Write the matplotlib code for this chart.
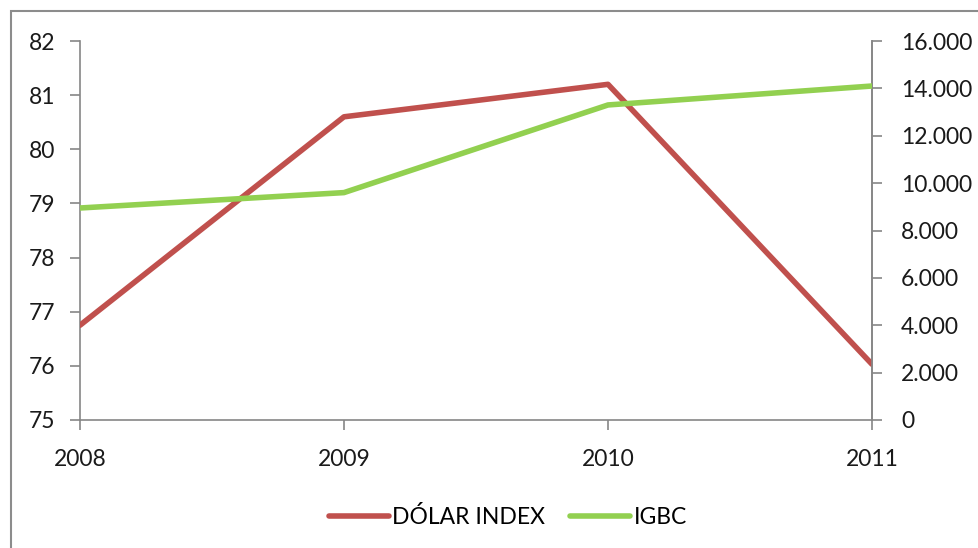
import matplotlib.pyplot as plt
from matplotlib.patches import Rectangle
from matplotlib.ticker import FuncFormatter

years = [2008, 2009, 2010, 2011]
dolar_index = [76.75, 80.6, 81.2, 76.03]
igbc = [8950, 9600, 13300, 14100]

red = '#C0504D'
green = '#92D050'

plt.rcParams['font.family'] = ['Lato', 'DejaVu Sans']

fig = plt.figure(figsize=(9.79, 5.48), dpi=100)
ax = fig.add_axes([80 / 979, 1 - 420 / 548, 792 / 979, 379 / 548])
ax2 = ax.twinx()

# chart frame (cut off on the right and bottom like the original)
fig.patches.append(Rectangle((11 / 979, -0.05), 1.1, (548 - 11) / 548 + 0.05,
                             transform=fig.transFigure, fill=False,
                             edgecolor='#8c8c8c', linewidth=1.5))

l1, = ax.plot(years, dolar_index, color=red, linewidth=4, label='DÓLAR INDEX',
              solid_capstyle='round', zorder=3)
l2, = ax2.plot(years, igbc, color=green, linewidth=4, label='IGBC',
               solid_capstyle='round', zorder=3)

ax.set_xlim(2008, 2011)
ax.set_ylim(75, 82)
ax2.set_ylim(0, 16000)
ax.set_xticks(years)
ax.set_yticks(range(75, 83))
ax2.set_yticks(range(0, 16001, 2000))
ax2.yaxis.set_major_formatter(FuncFormatter(lambda v, p: f'{int(v):,}'.replace(',', '.')))

for a in (ax, ax2):
    a.spines['top'].set_visible(False)
    for s in a.spines.values():
        s.set_color('#868686')
        s.set_linewidth(1.2)
    a.tick_params(colors='#868686', labelcolor='#1a1a1a', labelsize=16.5,
                  length=7, width=1.2, direction='out')
ax.tick_params(axis='y', pad=11)
ax2.tick_params(axis='y', pad=14)
ax.tick_params(axis='x', pad=14)
ax2.spines['left'].set_visible(False)
ax2.spines['bottom'].set_visible(False)

fig.legend([l1, l2], ['DÓLAR INDEX', 'IGBC'], loc='center',
           bbox_to_anchor=(508 / 979, 1 - 517 / 548), ncol=2, frameon=False,
           fontsize=16.5, handlelength=2.6, handletextpad=0.15, columnspacing=1.1)

fig.savefig('out.png', dpi=100)
